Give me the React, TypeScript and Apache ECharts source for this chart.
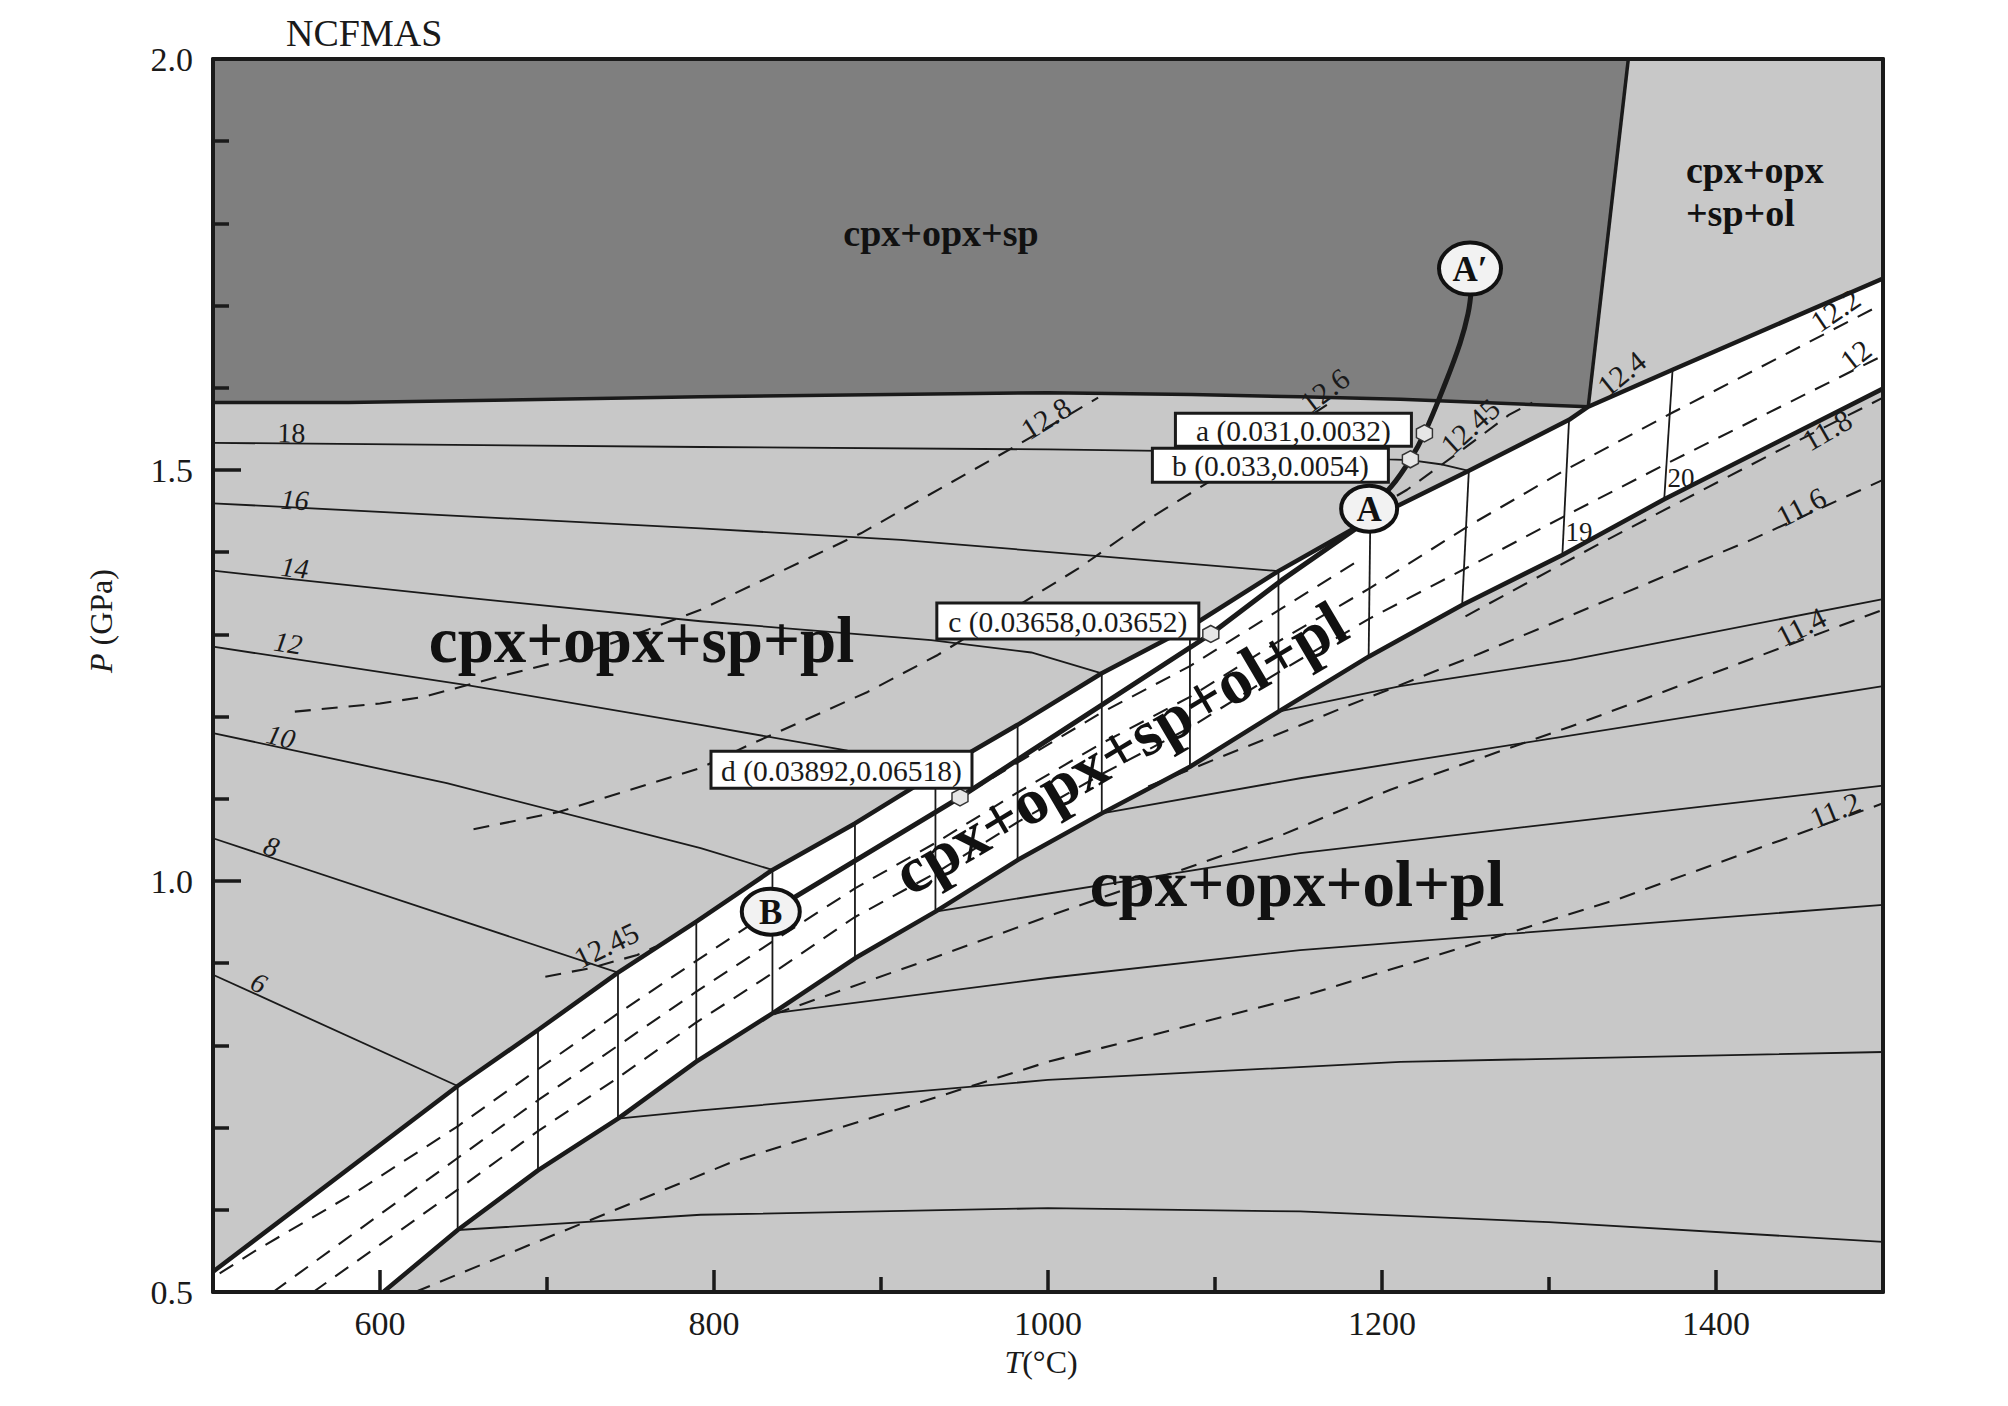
import React, { useEffect, useRef } from "react";
import * as echarts from "echarts";

// ---------- axis ticks ----------
const T_LABEL_TICKS = [600, 800, 1000, 1200, 1400];
const T_MINOR_TICKS = [700, 900, 1100, 1300];
const P_LABEL_TICKS = [0.5, 1.0, 1.5, 2.0];
const P_MINOR_TICKS = [0.6, 0.7, 0.8, 0.9, 1.1, 1.2, 1.3, 1.4, 1.6, 1.7, 1.8, 1.9];

// ---------- field boundaries [T(°C), P(GPa)] ----------
const darkBoundary = [[500, 1.582], [581, 1.582], [792, 1.589], [1000, 1.594], [1086, 1.592], [1151, 1.589], [1211, 1.586], [1323.5, 1.577]];
const spOlBoundary = [[1323.5, 1.577], [1347.5, 2.0]];
const bandUpper = [[500, 0.5247], [646.5, 0.7506], [694.6, 0.8187], [742.5, 0.8885], [789.4, 0.9505], [835, 1.0134], [884.4, 1.07], [953, 1.156], [981.8, 1.19], [1032.2, 1.2527], [1085, 1.309], [1138, 1.377], [1193, 1.44], [1252, 1.499], [1312, 1.561], [1323.5, 1.577], [1374, 1.622], [1500, 1.733]];
const bandLower = [[602, 0.5], [646.5, 0.5754], [694.6, 0.648], [742.5, 0.711], [789.4, 0.7802], [835, 0.839], [884.4, 0.906], [932.6, 0.9627], [981.8, 1.0255], [1032.2, 1.0823], [1085, 1.139], [1138, 1.206], [1192, 1.2729], [1248, 1.3358], [1308, 1.3966], [1369, 1.4644], [1500, 1.599]];
const plotCornerBottomLeft = [500, 0.5];
const plotTopLeft = [500, 2.0];
const plotTopDark = [1347.5, 2.0];

// vertical isopleths in the band: [Ttop, Ptop, Tbottom, Pbottom]
const bandVerticals = [
  [646.5, 0.7506, 646.5, 0.5754], [694.6, 0.8187, 694.6, 0.648], [742.5, 0.8885, 742.5, 0.711],
  [789.4, 0.9505, 789.4, 0.7802], [835, 1.0134, 835, 0.839], [884.4, 1.07, 884.4, 0.906],
  [932.6, 1.13, 932.6, 0.9627], [981.8, 1.19, 981.8, 1.0255], [1032.2, 1.2527, 1032.2, 1.0823],
  [1085, 1.309, 1085, 1.139], [1138, 1.377, 1138, 1.206], [1193, 1.44, 1192, 1.2729],
  [1252, 1.499, 1248, 1.3358], [1312, 1.561, 1308, 1.3966], [1374, 1.622, 1369, 1.4644],
];

// ---------- solid isopleths ----------
const iso18 = [[500, 1.533], [792, 1.528], [1000, 1.525], [1150, 1.521], [1204, 1.513], [1217, 1.512], [1235, 1.507], [1252, 1.499]];
const iso16 = [[500, 1.4595], [792, 1.429], [912, 1.415], [1032, 1.395], [1138, 1.377]];
const iso14 = [[500, 1.3775], [650, 1.345], [792, 1.316], [930, 1.293], [990, 1.278], [1032.2, 1.2527]];
const iso12 = [[500, 1.285], [653, 1.238], [792, 1.19], [880, 1.1585], [953, 1.156]];
const iso10 = [[500, 1.18], [640, 1.119], [792, 1.04], [835, 1.0134]];
const iso8 = [[500, 1.052], [742.5, 0.8885]];
const iso6 = [[500, 0.886], [646.5, 0.7506]];
const lowIso1 = [[1138, 1.206], [1211, 1.237], [1313, 1.269], [1500, 1.343]];
const lowIso2 = [[1032.2, 1.0823], [1151, 1.125], [1500, 1.237]];
const lowIso3 = [[932.6, 0.9627], [1151, 1.034], [1500, 1.116]];
const lowIso4 = [[835, 0.839], [1000, 0.882], [1151, 0.916], [1500, 0.971]];
const lowIso5 = [[742.5, 0.711], [792, 0.721], [1000, 0.758], [1211, 0.78], [1500, 0.792]];
const lowIso6 = [[646.5, 0.5754], [792, 0.594], [1000, 0.602], [1151, 0.598], [1300, 0.585], [1500, 0.561]];

// ---------- dashed isopleths ----------
const dash128 = [[549, 1.206], [600, 1.216], [626, 1.224], [672, 1.249], [715, 1.271], [792, 1.33], [888, 1.423], [984, 1.533], [1030, 1.588]];
const dash126 = [[656, 1.063], [707, 1.084], [792, 1.1375], [821, 1.1655], [892, 1.23], [934, 1.275], [1018, 1.38], [1060, 1.44], [1100, 1.49], [1169, 1.582]];
const dash1245a = [[699, 0.8836], [726, 0.894], [754, 0.91], [765, 0.92]];
const dash1245b = [[1195, 1.452], [1215, 1.476], [1245, 1.52], [1276, 1.567], [1290, 1.582]];
const bandDash1 = [[504, 0.5227], [526, 0.551], [586, 0.622], [646.5, 0.7016], [694.6, 0.771], [742.5, 0.8388], [789.4, 0.9028], [835, 0.9646], [884.4, 1.0258], [932.6, 1.0832], [981.8, 1.1439], [1032.2, 1.205], [1085, 1.2614], [1138, 1.3291], [1186, 1.39]];
const bandDash2 = [[536, 0.5], [646.5, 0.663], [694.6, 0.7333], [742.5, 0.7997], [789.4, 0.8653], [835, 0.9262], [884.4, 0.991], [932.6, 1.0463], [981.8, 1.1077], [1032.2, 1.1675], [1085, 1.224], [1138, 1.2915], [1193, 1.3565], [1252, 1.4322], [1310, 1.5003], [1374, 1.5699], [1500, 1.7022]];
const bandDash3 = [[560, 0.5], [646.5, 0.6245], [694.6, 0.6958], [742.5, 0.7607], [789.4, 0.8279], [835, 0.8878], [884.4, 0.9562], [932.6, 1.0095], [981.8, 1.0716], [1032.2, 1.13], [1085, 1.1866], [1138, 1.2539], [1193, 1.3198], [1252, 1.3823], [1310, 1.4446], [1374, 1.5114], [1500, 1.6392]];
const dash118 = [[1250, 1.322], [1330, 1.41], [1432, 1.518], [1500, 1.588]];
const dash116 = [[1060, 1.115], [1100, 1.148], [1159, 1.196], [1178, 1.212], [1259, 1.277], [1340, 1.346], [1421, 1.415], [1500, 1.488]];
const dash114 = [[836, 0.838], [928, 0.904], [1000, 0.957], [1140, 1.056], [1205, 1.111], [1313, 1.188], [1500, 1.33]];
const dash112 = [[621, 0.5], [700, 0.566], [812, 0.659], [1000, 0.78], [1151, 0.859], [1211, 0.896], [1340, 0.977], [1500, 1.0945]];

// ---------- P-T path ----------
const pathBA = [[834, 0.9627], [947.3, 1.1018], [1097.5, 1.3005], [1140, 1.366], [1186, 1.431], [1192.3, 1.453]];
const pathAA = [[1192.3, 1.453], [1205.6, 1.48], [1217, 1.513], [1225.4, 1.5446], [1237, 1.601], [1246.7, 1.654], [1251.5, 1.69], [1253.5, 1.72]];

const markerPoints = [[1225.4, 1.5446], [1217, 1.513], [1097.5, 1.3005], [947.3, 1.1018]];
const markerLabels = ["a (0.031,0.0032)", "b (0.033,0.0054)", "c (0.03658,0.03652)", "d (0.03892,0.06518)"];

const circlePoints = [[1252.7, 1.745], [1192.3, 1.453], [834, 0.9627]];
const circleLetters = ["A′", "A", "B"];

// ---------- labels ----------
const isoLabelPos = [[998.8, 1.563], [1165.7, 1.597], [1252.7, 1.553], [1343.4, 1.6176], [1471.5, 1.6946], [1483.6, 1.64], [1466.5, 1.5487], [1450.9, 1.4554], [1450.9, 1.3094], [1471.3, 1.0864], [735.5, 0.922], [1318, 1.424], [1379, 1.49]];
const isoLabelTexts = ["12.8", "12.6", "12.45", "12.4", "12.2", "12", "11.8", "11.6", "11.4", "11.2", "12.45", "19", "20"];
const solidLabelPos = [[547, 1.545], [549, 1.4635], [549, 1.381], [545, 1.2895], [540.7, 1.1756], [535, 1.0418], [527.5, 0.876]];
const solidLabelTexts = ["18", "16", "14", "12", "10", "8", "6"];
const regionPos = [[935.9, 1.7883], [1382, 1.865], [1382, 1.8127], [756.6, 1.2932], [1149.1, 0.9964], [1043.1, 1.162]];
const regionTexts = ["cpx+opx+sp", "cpx+opx", "+sp+ol", "cpx+opx+sp+pl", "cpx+opx+ol+pl", "cpx+opx+sp+ol+pl"];

// ---------- styles (layout only) ----------
const FONT = '"Liberation Serif", "Times New Roman", serif';
const INK = "#1a1a1a";
const isoLabelAngles = [32, 37, 42, 39, 34, 38, 30, 27, 27, 22, 26, 0, 0];
const isoLabelSizes = [30, 30, 30, 30, 30, 30, 30, 30, 30, 30, 30, 27, 27];
const solidLabelAngles = [-1, -3, -6, -9, -14, -19, -25];
const solidLabelItalic = [false, true, true, true, true, true, true];
const regionStyle = [
  { size: 38, align: "center", rot: 0 },
  { size: 38, align: "left", rot: 0 },
  { size: 38, align: "left", rot: 0 },
  { size: 65, align: "center", rot: 0 },
  { size: 65, align: "center", rot: 0 },
  { size: 65, align: "center", rot: 30.5 },
];
const markerBoxLayout = [[-249, -20, 236, 33], [-258, -11, 236, 34], [-274, -31, 262, 36], [-249, -46, 261, 37]];
const circleRadii = [[31, 26], [28, 23], [29, 23]];

function polygonSeries(points: number[][], fill: string, z: number) {
  return {
    type: "custom",
    silent: true,
    z,
    data: points,
    encode: { x: 0, y: 1 },
    renderItem: (params: any, api: any) => {
      if (params.dataIndex !== 0) return null;
      return {
        type: "polygon",
        shape: { points: points.map((p) => api.coord(p)) },
        style: { fill, stroke: null },
      };
    },
  };
}

function lineSeries(data: number[][], width: number, dashed: boolean, z: number, smooth: any = false) {
  return {
    type: "line",
    data,
    showSymbol: false,
    symbol: "none",
    smooth,
    silent: true,
    z,
    lineStyle: { color: INK, width, type: dashed ? [16, 11] : "solid", cap: "butt", join: "round" },
  };
}

function labelSeries(pos: number[][], render: (i: number, c: number[]) => any, z: number) {
  return {
    type: "custom",
    silent: true,
    z,
    data: pos,
    encode: { x: 0, y: 1 },
    renderItem: (params: any, api: any) => {
      const c = api.coord([api.value(0), api.value(1)]);
      return render(params.dataIndex, c);
    },
  };
}

function buildOption() {
  const bandPolygon = [...bandUpper, ...bandLower.slice().reverse(), plotCornerBottomLeft];
  const darkPolygon = [plotTopLeft, plotTopDark, ...darkBoundary.slice().reverse()];

  const thick = [darkBoundary, spOlBoundary].map((d) => lineSeries(d, 3.5, false, 4));
  const bandEdges = [bandUpper, bandLower].map((d) => lineSeries(d, 4.5, false, 5));
  const thin = [iso18, iso16, iso14, iso12, iso10, iso8, iso6, lowIso1, lowIso2, lowIso3, lowIso4, lowIso5, lowIso6].map((d) => lineSeries(d, 1.8, false, 3));
  const dashed = [dash128, dash126, dash1245a, dash1245b, bandDash1, bandDash2, bandDash3, dash118, dash116, dash114, dash112].map((d) => lineSeries(d, 2.1, true, 3));

  const verticals = {
    type: "custom",
    silent: true,
    z: 3,
    data: bandVerticals,
    encode: { x: [0, 2], y: [1, 3] },
    renderItem: (params: any, api: any) => {
      const a = api.coord([api.value(0), api.value(1)]);
      const b = api.coord([api.value(2), api.value(3)]);
      return { type: "line", shape: { x1: a[0], y1: a[1], x2: b[0], y2: b[1] }, style: { stroke: INK, lineWidth: 1.8 } };
    },
  };

  const paths = [lineSeries(pathBA, 5, false, 6), lineSeries(pathAA, 5, false, 6, 0.4)];

  const markers = {
    type: "scatter",
    silent: true,
    z: 7,
    data: markerPoints,
    symbol: "path://M8.66,0 L17.32,5 L17.32,15 L8.66,20 L0,15 L0,5 Z",
    symbolSize: [16, 17],
    itemStyle: { color: "#e6e6e6", borderColor: "#333", borderWidth: 1.5, opacity: 1 },
  };

  const boxes = labelSeries(markerPoints, (i, c) => {
    const [dx, dy, w, h] = markerBoxLayout[i];
    return {
      type: "group",
      children: [
        { type: "rect", shape: { x: c[0] + dx, y: c[1] + dy, width: w, height: h }, style: { fill: "#fff", stroke: INK, lineWidth: 3 } },
        {
          type: "text",
          x: c[0] + dx + w / 2,
          y: c[1] + dy + h / 2 + 1,
          style: { text: markerLabels[i], fontFamily: FONT, fontSize: 29.5, fill: INK, align: "center", verticalAlign: "middle" },
        },
      ],
    };
  }, 8);

  const circles = labelSeries(circlePoints, (i, c) => {
    const [rx, ry] = circleRadii[i];
    return {
      type: "group",
      children: [
        { type: "ellipse", shape: { cx: c[0], cy: c[1], rx, ry }, style: { fill: "#f2f2f2", stroke: "#111", lineWidth: 4 } },
        {
          type: "text",
          x: c[0],
          y: c[1] + 1,
          style: { text: circleLetters[i], fontFamily: FONT, fontSize: 35, fontWeight: "bold", fill: "#111", align: "center", verticalAlign: "middle" },
        },
      ],
    };
  }, 9);

  const isoLabels = labelSeries(isoLabelPos, (i, c) => ({
    type: "text",
    x: c[0],
    y: c[1],
    rotation: (isoLabelAngles[i] * Math.PI) / 180,
    style: { text: isoLabelTexts[i], fontFamily: FONT, fontSize: isoLabelSizes[i], fill: INK, align: "center", verticalAlign: "middle" },
  }), 8);

  const solidLabels = labelSeries(solidLabelPos, (i, c) => ({
    type: "text",
    x: c[0],
    y: c[1],
    rotation: (solidLabelAngles[i] * Math.PI) / 180,
    style: { text: solidLabelTexts[i], fontFamily: FONT, fontSize: 28, fontStyle: solidLabelItalic[i] ? "italic" : "normal", fill: INK, align: "center", verticalAlign: "middle" },
  }), 8);

  const regionLabels = labelSeries(regionPos, (i, c) => ({
    type: "text",
    x: c[0],
    y: c[1],
    rotation: (regionStyle[i].rot * Math.PI) / 180,
    style: { text: regionTexts[i], fontFamily: FONT, fontSize: regionStyle[i].size, fontWeight: "bold", fill: "#111", align: regionStyle[i].align, verticalAlign: "middle" },
  }), 8);

  const axisLabelStyle = { fontFamily: FONT, fontSize: 34, color: INK };

  return {
    animation: false,
    backgroundColor: "#ffffff",
    textStyle: { fontFamily: FONT },
    grid: { left: 213, top: 59, width: 1670, height: 1233, show: true, backgroundColor: "#c8c8c8", borderWidth: 0 },
    xAxis: [
      {
        type: "value", min: 500, max: 1500, position: "bottom", z: 10,
        axisLine: { show: true, onZero: false, lineStyle: { color: INK, width: 4 } },
        axisTick: { show: true, inside: true, length: 22, customValues: T_LABEL_TICKS, lineStyle: { color: INK, width: 3.5 } },
        axisLabel: { show: true, customValues: T_LABEL_TICKS, margin: 14, formatter: (v: number) => String(Math.round(v)), ...axisLabelStyle },
        splitLine: { show: false },
      },
      {
        type: "value", min: 500, max: 1500, position: "bottom", z: 10,
        axisLine: { show: false },
        axisTick: { show: true, inside: true, length: 15, customValues: T_MINOR_TICKS, lineStyle: { color: INK, width: 3.5 } },
        axisLabel: { show: false },
        splitLine: { show: false },
      },
      {
        type: "value", min: 500, max: 1500, position: "top", z: 10,
        axisLine: { show: true, onZero: false, lineStyle: { color: INK, width: 4 } },
        axisTick: { show: false }, axisLabel: { show: false }, splitLine: { show: false },
      },
    ],
    yAxis: [
      {
        type: "value", min: 0.5, max: 2.0, position: "left", z: 10,
        axisLine: { show: true, onZero: false, lineStyle: { color: INK, width: 4 } },
        axisTick: { show: true, inside: true, length: 28, customValues: P_LABEL_TICKS, lineStyle: { color: INK, width: 3.5 } },
        axisLabel: { show: true, customValues: P_LABEL_TICKS, margin: 20, formatter: (v: number) => v.toFixed(1), ...axisLabelStyle },
        splitLine: { show: false },
      },
      {
        type: "value", min: 0.5, max: 2.0, position: "left", z: 10,
        axisLine: { show: false },
        axisTick: { show: true, inside: true, length: 16, customValues: P_MINOR_TICKS, lineStyle: { color: INK, width: 3.5 } },
        axisLabel: { show: false },
        splitLine: { show: false },
      },
      {
        type: "value", min: 0.5, max: 2.0, position: "right", z: 10,
        axisLine: { show: true, onZero: false, lineStyle: { color: INK, width: 4 } },
        axisTick: { show: false }, axisLabel: { show: false }, splitLine: { show: false },
      },
    ],
    graphic: [
      { type: "text", left: 286, top: 14, style: { text: "NCFMAS", fontFamily: FONT, fontSize: 38, fill: INK } },
      {
        type: "text", x: 101, y: 621, rotation: Math.PI / 2,
        style: { text: "{i|P} (GPa)", fontFamily: FONT, fontSize: 32, fill: INK, align: "center", verticalAlign: "middle", rich: { i: { fontStyle: "italic", fontFamily: FONT, fontSize: 32, fill: INK } } },
      },
      {
        type: "text", x: 1041, y: 1362,
        style: { text: "{i|T}(°C)", fontFamily: FONT, fontSize: 32, fill: INK, align: "center", verticalAlign: "middle", rich: { i: { fontStyle: "italic", fontFamily: FONT, fontSize: 32, fill: INK } } },
      },
    ],
    series: [
      polygonSeries(darkPolygon, "#7f7f7f", 1),
      polygonSeries(bandPolygon, "#ffffff", 1),
      ...thin,
      ...dashed,
      verticals,
      ...thick,
      ...bandEdges,
      ...paths,
      markers,
      solidLabels,
      isoLabels,
      regionLabels,
      boxes,
      circles,
    ],
  };
}

export default function App() {
  const ref = useRef<HTMLDivElement>(null);
  useEffect(() => {
    document.body.style.margin = "0";
    const chart = echarts.init(ref.current as HTMLDivElement, undefined, { renderer: "svg" });
    chart.setOption(buildOption() as any);
    return () => chart.dispose();
  }, []);
  return <div ref={ref} style={{ width: 2008, height: 1406 }} />;
}
